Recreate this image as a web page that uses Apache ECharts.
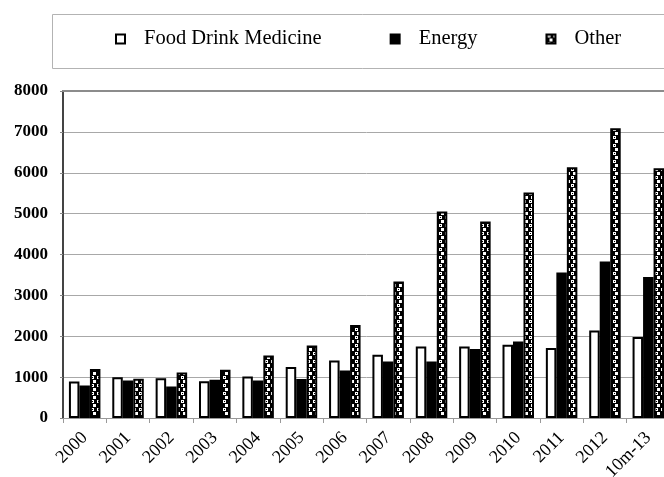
<!DOCTYPE html>
<html>
<head>
<meta charset="utf-8">
<script src="https://cdn.jsdelivr.net/npm/echarts@6/dist/echarts.min.js"></script>
<style>
html,body{margin:0;padding:0;background:#fff;overflow:hidden;width:664px;height:477px;}
#chart{width:672px;height:477px;}
</style>
</head>
<body>
<div id="chart"></div>
<script>
var categories = ['2000','2001','2002','2003','2004','2005','2006','2007','2008','2009','2010','2011','2012','10m-13'];
var foodDrinkMedicine = [890, 1000, 975, 900, 1015, 1245, 1405, 1548, 1750, 1750, 1792, 1711, 2142, 1980];
var energy = [797, 920, 773, 935, 920, 953, 1164, 1384, 1384, 1687, 1870, 3560, 3830, 3447];
var other = [1198, 960, 1115, 1180, 1530, 1775, 2274, 3340, 5051, 4807, 5516, 6137, 7090, 6110];
var yTicks = {min: 0, max: 8000, interval: 1000};
var seriesNames = ['Food Drink Medicine', 'Energy', 'Other'];

// texture for the "Other" bars
var pc = document.createElement('canvas');
pc.width = 6; pc.height = 8;
var g = pc.getContext('2d');
g.fillStyle = '#000'; g.fillRect(0, 0, 6, 8);
g.fillStyle = '#fff';
g.fillRect(1, 0, 3, 3);
g.fillRect(3, 4, 3, 3);
g.fillStyle = '#000';
g.fillRect(2, 1, 1, 1);
var patternFill = {image: pc, repeat: 'repeat'};

var serif = '"Liberation Serif", "DejaVu Serif", serif';
var chart = echarts.init(document.getElementById('chart'), null, {renderer: 'canvas'});
chart.setOption({
  animation: false,
  backgroundColor: '#fff',
  graphic: [{
    type: 'rect', left: 50, top: 12, silent: true,
    shape: {width: 640, height: 54},
    style: {fill: 'none', stroke: '#b3b3b3', lineWidth: 1}
  }],
  legend: {
    left: 115, top: 28, padding: 0,
    itemWidth: 9, itemHeight: 9, itemGap: 68,
    icon: 'rect',
    textStyle: {fontFamily: serif, fontSize: 20.5, color: '#000', padding: [0, 0, 0, 14], lineHeight: 22},
    data: seriesNames
  },
  grid: {left: 63, right: 2, top: 91, bottom: 59, containLabel: false, outerBoundsMode: 'none'},
  xAxis: [{
    type: 'category', data: categories, position: 'bottom',
    axisLine: {show: true, lineStyle: {color: '#999', width: 1}},
    axisTick: {show: true, alignWithLabel: false, length: 5, lineStyle: {color: '#999'}},
    axisLabel: {rotate: 45, interval: 0, margin: 17, fontFamily: serif, fontSize: 18, color: '#000'}
  }, {
    type: 'category', data: categories, position: 'top',
    axisLine: {show: true, lineStyle: {color: '#8c8c8c', width: 2}},
    axisTick: {show: false}, axisLabel: {show: false}
  }],
  yAxis: {
    type: 'value', min: yTicks.min, max: yTicks.max, interval: yTicks.interval,
    axisLine: {show: true, lineStyle: {color: '#444', width: 2}},
    axisTick: {show: true, length: 3, lineStyle: {color: '#888'}},
    splitLine: {show: true, lineStyle: {color: '#a8a8a8', width: 1}},
    axisLabel: {margin: 15, fontFamily: serif, fontSize: 17, fontWeight: 'bold', color: '#000',
      formatter: function (v) { return String(v); }}
  },
  series: [{
    name: seriesNames[0], type: 'bar', data: foodDrinkMedicine,
    barWidth: 10.5, barGap: '0%',
    itemStyle: {color: '#fff', borderColor: '#000', borderWidth: 2}
  }, {
    name: seriesNames[1], type: 'bar', data: energy,
    barWidth: 10.5, barGap: '0%',
    itemStyle: {color: '#000', borderColor: '#000', borderWidth: 2}
  }, {
    name: seriesNames[2], type: 'bar', data: other,
    barWidth: 10.5, barGap: '0%',
    itemStyle: {color: patternFill, borderColor: '#000', borderWidth: 2}
  }]
});
</script>
</body>
</html>
